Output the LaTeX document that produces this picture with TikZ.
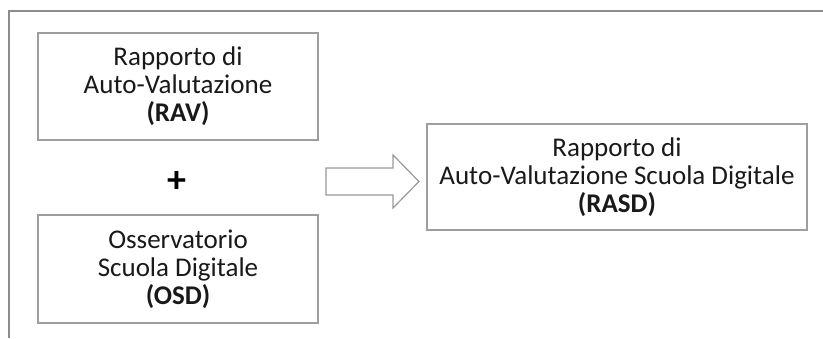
\documentclass[tikz,border=0pt]{standalone}
\usepackage{fontspec}
\setmainfont{Carlito}
\usepackage{tikz}
\usetikzlibrary{positioning,calc}

\begin{document}
\begin{tikzpicture}[x=0.5pt,y=0.5pt,
  box/.style={draw=black!38,line width=0.9pt,align=center,inner sep=0pt,
    font=\fontsize{13.5}{14}\selectfont,text=black!90},
  frameline/.style={draw=black!45,line width=1pt},
  blockarrow/.style={draw=black!40,line width=0.6pt,fill=white,line join=miter}]
\useasboundingbox (0,0) rectangle (823,338);
% partial outer frame
\draw[frameline] (9,0) -- (9,327) -- (823,327);
% the two sources
\node[box,minimum width=140pt,minimum height=53.5pt] (rav) at (178,251.5)
  {Rapporto di\\Auto-Valutazione\\\textbf{(RAV)}};
\node[box,minimum width=140pt,minimum height=54pt] (osd) at (178,69)
  {Osservatorio\\Scuola Digitale\\\textbf{(OSD)}};
\node[font=\fontsize{19}{19}\selectfont\bfseries,inner sep=0pt] (plus) at (177,156) {+};
% result
\node[box,minimum width=190pt,minimum height=53pt] (rasd) at (617,161)
  {Rapporto di\\Auto-Valutazione Scuola Digitale\\\textbf{(RASD)}};
% block arrow
\draw[blockarrow] (326,143) -- (393,143) -- (393,130) -- (419,156.5)
   -- (393,183) -- (393,170) -- (326,170) -- cycle;
\end{tikzpicture}
\end{document}
